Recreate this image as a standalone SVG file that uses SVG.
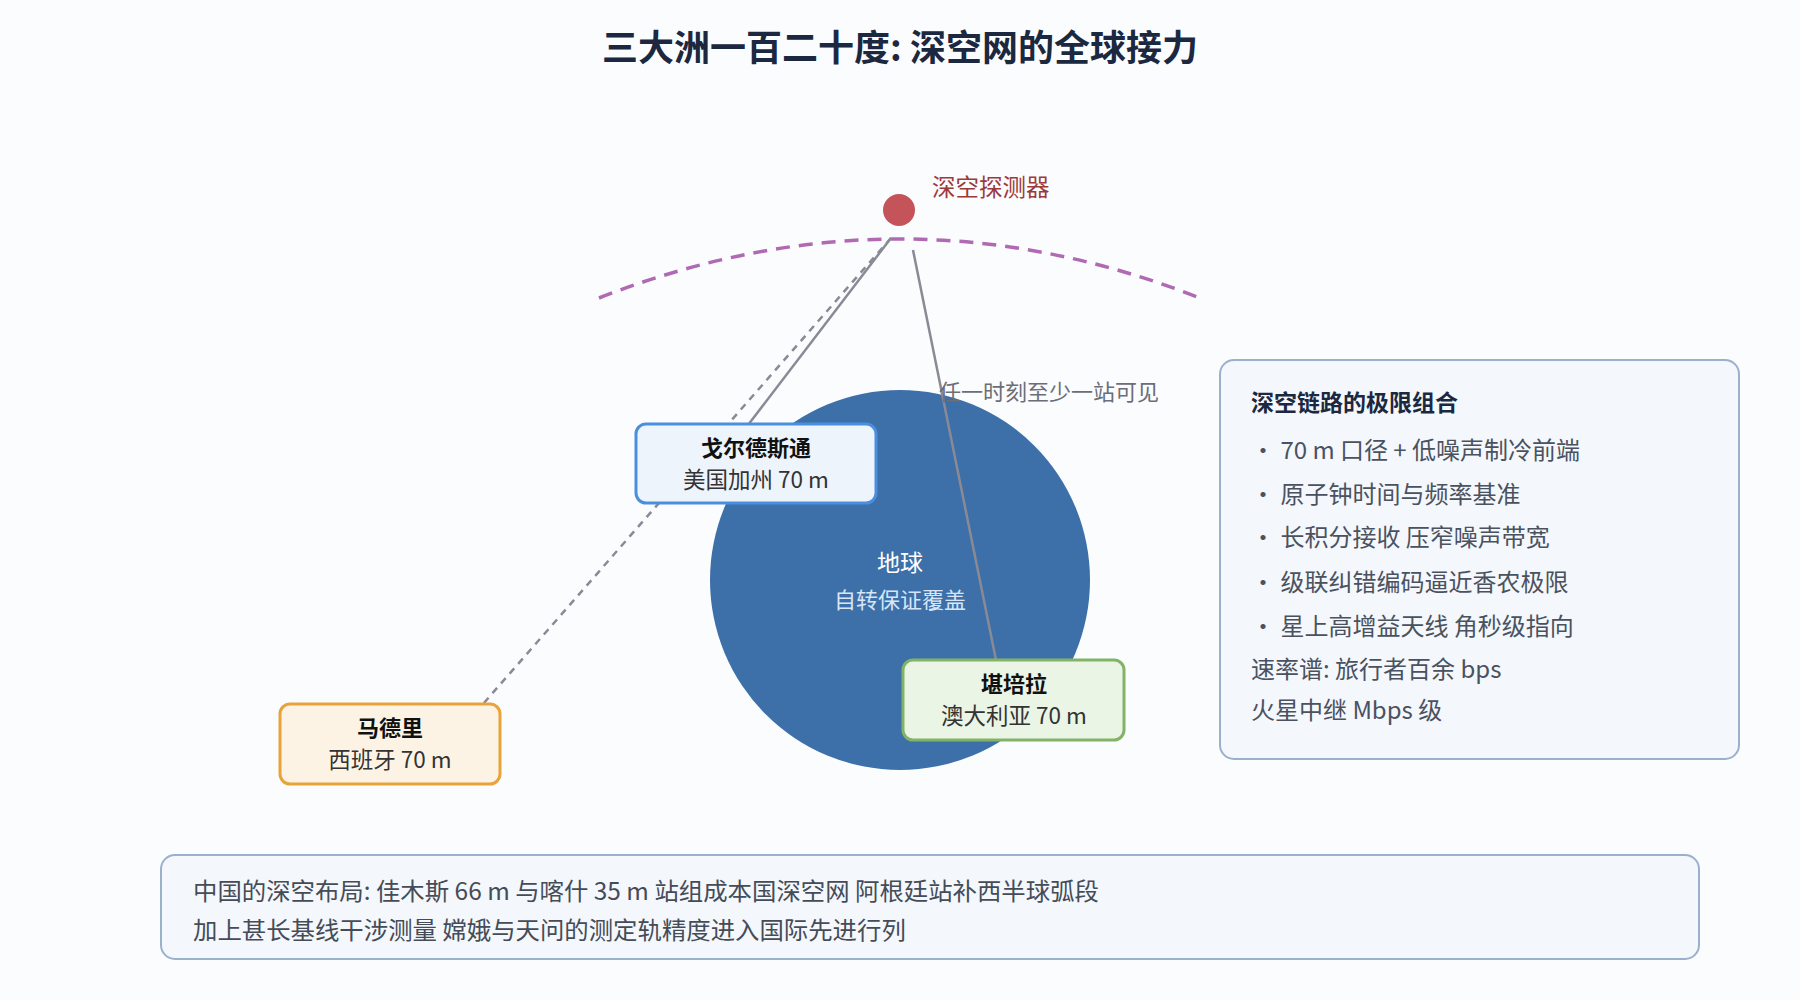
<svg xmlns="http://www.w3.org/2000/svg" width="1800" height="1000" viewBox="0 0 1800 1000">
<style>
text{font-family:"Noto Sans CJK SC","Noto Sans",sans-serif}
.t{font-size:24.4px;fill:#444c58}
.b{font-size:22px;font-weight:bold;fill:#111}
.s{font-size:22.5px;fill:#333}
.p{font-size:24px;fill:#4a5260}
</style>
<rect width="1800" height="1000" fill="#fbfcfe"/>
<text x="900" y="61" text-anchor="middle" font-size="36" font-weight="bold" fill="#1c2840">三大洲一百二十度: 深空网的全球接力</text>
<g id="orbit"><path d="M599,298 Q900,180 1200,298" fill="none" stroke="#b06ab3" stroke-width="3.5" stroke-dasharray="14,9"/></g>
<g id="earth">
<circle cx="900" cy="580" r="190" fill="#3d6fa9"/>
<text x="900" y="571" text-anchor="middle" font-size="23" fill="#fff">地球</text>
<text x="900" y="608" text-anchor="middle" font-size="22" fill="#d6e6f7">自转保证覆盖</text>
</g>
<g id="connectors" stroke="#8a8a96" stroke-width="2.5" fill="none">
<line x1="891" y1="238" x2="748" y2="425"/>
<line x1="891" y1="238" x2="476" y2="712" stroke-dasharray="7,6"/>
<line x1="913" y1="250" x2="996" y2="660"/>
</g>
<text x="939" y="400" font-size="22" fill="#6a6e78">任一时刻至少一站可见</text>
<g id="probe">
<circle cx="899" cy="210" r="16" fill="#c4545a"/>
<text x="932" y="196" font-size="23.5" fill="#9c3a3a">深空探测器</text>
</g>
<g id="goldstone">
<rect x="636" y="424" width="240" height="79" rx="10" fill="#eef4fc" stroke="#4a8fdd" stroke-width="3"/>
<text x="756" y="456" text-anchor="middle" class="b">戈尔德斯通</text>
<text x="756" y="488" text-anchor="middle" class="s">美国加州 70 m</text>
</g>
<g id="canberra">
<rect x="903" y="660" width="221" height="80" rx="10" fill="#eaf5e6" stroke="#82b366" stroke-width="3"/>
<text x="1014" y="692" text-anchor="middle" class="b">堪培拉</text>
<text x="1014" y="724" text-anchor="middle" class="s">澳大利亚 70 m</text>
</g>
<g id="madrid">
<rect x="280" y="704" width="220" height="80" rx="10" fill="#fdf3e5" stroke="#e8a33a" stroke-width="3"/>
<text x="390" y="736" text-anchor="middle" class="b">马德里</text>
<text x="390" y="768" text-anchor="middle" class="s">西班牙 70 m</text>
</g>
<g id="panel">
<rect x="1220" y="360" width="519" height="399" rx="14" fill="#f4f7fb" stroke="#9bb0cc" stroke-width="2"/>
<text x="1251" y="411" font-size="23" font-weight="bold" fill="#1c2840">深空链路的极限组合</text>
<text x="1251" y="459" class="p">· 70 m 口径 + 低噪声制冷前端</text>
<text x="1251" y="503" class="p">· 原子钟时间与频率基准</text>
<text x="1251" y="546" class="p">· 长积分接收 压窄噪声带宽</text>
<text x="1251" y="591" class="p">· 级联纠错编码逼近香农极限</text>
<text x="1251" y="635" class="p">· 星上高增益天线 角秒级指向</text>
<text x="1251" y="678" class="p">速率谱: 旅行者百余 bps</text>
<text x="1251" y="719" class="p">火星中继 Mbps 级</text>
</g>
<g id="note">
<rect x="161" y="855" width="1538" height="104" rx="14" fill="#f4f7fb" stroke="#9bb0cc" stroke-width="2"/>
<text x="193" y="900" class="t">中国的深空布局: 佳木斯 66 m 与喀什 35 m 站组成本国深空网 阿根廷站补西半球弧段</text>
<text x="193" y="939" class="t">加上甚长基线干涉测量 嫦娥与天问的测定轨精度进入国际先进行列</text>
</g>
</svg>
